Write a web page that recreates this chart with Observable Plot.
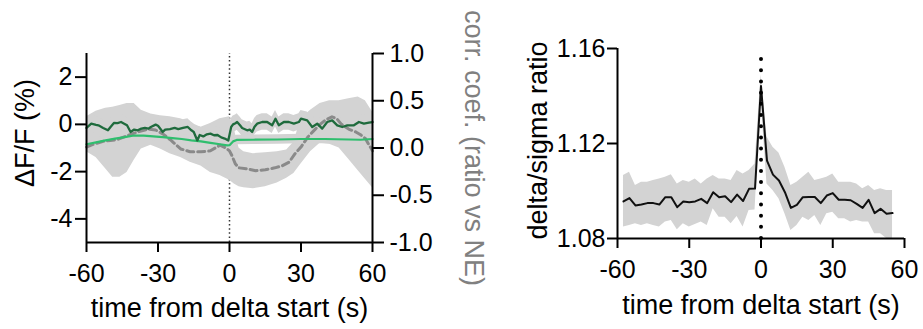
<!DOCTYPE html>
<html><head><meta charset="utf-8">
<script src="https://cdn.jsdelivr.net/npm/d3@7"></script>
<script src="https://cdn.jsdelivr.net/npm/@observablehq/plot@0.6"></script>
<style>
body{margin:0;background:#fff;}
#wrap{position:relative;width:923px;height:329px;overflow:hidden;background:#fff;}
#wrap svg{position:absolute;top:0;}
</style></head><body><div id="wrap"></div>
<script>
// ---------- axis definitions ----------
const xTicks = [-60, -30, 0, 30, 60];
const xDomain = [-60, 60];
const dffTicks = [-4, -2, 0, 2];
const dffDomain = [-5, 3];
const corrTicks = [-1, -0.5, 0, 0.5, 1];
const corrDomain = [-1, 1];
const ratioTicks = [1.08, 1.12, 1.16];
const ratioDomain = [1.08, 1.16];

// ---------- left panel: dark green dF/F trace ----------
const dgT = [-60,-58,-56,-55,-53,-51,-50,-48.5,-47,-45.5,-44,-43,-41.5,-40,-38.5,-37,-35.5,-34,-33,-31,-30,-28,-27,-25,-23,-21.5,-19.5,-17.5,-16,-15,-13.5,-12.5,-11,-9.5,-8,-6.5,-5,-3.5,-2,-0.5,0.7,1.5,2.5,3.2,4.5,5.3,7.4,8.5,9.5,10.5,11.6,13.7,15.8,17.9,19.3,20.7,22.8,24.9,27,29.1,30,32.6,34.7,36.8,38.9,41,43.1,45.2,47.3,49.4,52.2,54.3,56.4,58.5,60];
const dgV = [-0.15,0.03,-0.02,-0.04,-0.15,-0.25,-0.12,0.06,0.05,0.10,0.02,-0.04,-0.32,-0.22,-0.25,-0.18,-0.15,-0.18,-0.11,-0.01,-0.06,-0.32,-0.22,-0.20,-0.15,-0.20,-0.15,-0.11,-0.25,-0.32,-0.68,-0.45,-0.51,-0.42,-0.39,-0.46,-0.45,-0.55,-0.60,-0.68,-0.11,0.00,0.05,0.10,-0.05,-0.15,-0.25,-0.22,-0.32,-0.10,0.03,0.10,0.10,-0.04,0.24,-0.04,0.10,0.10,0.03,0.10,0.24,0.17,-0.11,0.03,-0.18,0.10,0.17,-0.04,-0.11,-0.04,-0.04,0.10,0.03,0.07,0.10];
const dgHalfBand = 0.35;   // half width of the grey band around the dark trace

// ---------- left panel: light green dF/F trace ----------
const lgT = [-60,-56,-52,-48,-44,-40,-36,-32,-28,-24,-20,-16,-12,-8,-4,-1,0,1.5,3,10,20,30,40,50,55,60];
const lgV = [-0.84,-0.76,-0.68,-0.60,-0.54,-0.47,-0.48,-0.51,-0.54,-0.58,-0.62,-0.68,-0.72,-0.78,-0.84,-0.89,-0.88,-0.72,-0.66,-0.65,-0.64,-0.62,-0.62,-0.64,-0.65,-0.62];
const lgHalfBand = 0.2;

// ---------- left panel: correlation coefficient (right axis) ----------
const ccT = [-60,-57,-53,-50,-47,-43,-38.5,-34,-31,-28,-24.5,-20.5,-16.5,-12,-8,-4,-1.5,0,1,2.5,4,7,11,15,19,22,25,27.5,30,33,36,38,40.5,43,45,47,50,53,55,57,60];
const ccV = [0.01,0.04,0.07,0.08,0.09,0.13,0.17,0.20,0.19,0.15,0.08,-0.01,-0.04,-0.04,-0.03,0.03,0.00,-0.03,-0.08,-0.17,-0.21,-0.22,-0.24,-0.23,-0.21,-0.19,-0.15,-0.06,0.01,0.12,0.20,0.25,0.30,0.33,0.31,0.25,0.20,0.17,0.14,0.10,-0.03];
const cbT  = [-60,-56,-52,-49,-46,-43,-40,-37,-33,-29,-25,-20.5,-16.5,-12,-8,-4,0,2,4,6,10,15,20,24,27,30,34,38,42,46,50,54,57,60];
const cbHi = [0.33,0.39,0.42,0.43,0.45,0.47,0.47,0.40,0.36,0.34,0.33,0.31,0.27,0.22,0.26,0.31,0.33,0.20,0.00,-0.04,-0.06,-0.05,-0.04,-0.02,0.06,0.31,0.40,0.47,0.50,0.50,0.52,0.54,0.50,0.38];
const cbLo = [-0.04,-0.10,-0.22,-0.31,-0.31,-0.26,-0.13,-0.01,0.03,-0.01,-0.06,-0.10,-0.15,-0.19,-0.26,-0.29,-0.34,-0.38,-0.41,-0.42,-0.43,-0.41,-0.37,-0.32,-0.27,-0.17,-0.04,0.05,0.04,0.00,-0.12,-0.24,-0.33,-0.42];

// ---------- right panel: delta/sigma ratio ----------
const rT = [-57.5,-55,-52.5,-50,-47.5,-45,-42.5,-40,-37.5,-35,-32.5,-30,-27.5,-25,-22.5,-20,-17.5,-15,-12.5,-10,-7.5,-5,-2.5,0,2.5,5,7.5,10,12.5,15,17.5,20,22.5,25,27.5,30,32.5,35,37.5,40,42.5,45,47.5,50,52.5,55];
const rV = [1.0956,1.0970,1.0939,1.0943,1.0949,1.0949,1.0943,1.0974,1.0974,1.0932,1.0956,1.0953,1.0956,1.0967,1.0949,1.0995,1.0974,1.0978,1.0953,1.0985,1.0958,1.1009,1.1010,1.1442,1.1128,1.1069,1.1044,1.0995,1.0929,1.0942,1.0974,1.0975,1.0975,1.0949,1.0981,1.0991,1.0963,1.0963,1.0961,1.0946,1.0929,1.0963,1.0907,1.0925,1.0904,1.0907];
const rHi = [1.1065,1.1079,1.1023,1.1037,1.1037,1.1044,1.1051,1.1058,1.1068,1.1030,1.1044,1.1037,1.1051,1.1030,1.1051,1.1065,1.1051,1.1051,1.1044,1.1086,1.1072,1.1086,1.1114,1.1490,1.1227,1.1184,1.1160,1.1100,1.1023,1.1037,1.1058,1.1079,1.1044,1.1051,1.1058,1.1072,1.1037,1.1037,1.1037,1.1030,1.1009,1.1023,1.1002,1.1009,1.1002,1.1002];
const rLo = [1.0848,1.0855,1.0862,1.0855,1.0862,1.0855,1.0848,1.0869,1.0876,1.0837,1.0862,1.0848,1.0859,1.0869,1.0855,1.0925,1.0890,1.0890,1.0862,1.0893,1.0848,1.0918,1.0920,1.1390,1.1030,1.1002,1.0967,1.0904,1.0834,1.0855,1.0890,1.0876,1.0897,1.0855,1.0904,1.0911,1.0883,1.0883,1.0869,1.0876,1.0869,1.0869,1.0820,1.0820,1.0800,1.0800];

// ---------- text ----------
const xTitle = "time from delta start (s)";
const dffTitle = "ΔF/F (%)";
const corrTitle = "corr. coef. (ratio vs NE)";
const ratioTitle = "delta/sigma ratio";

// ---------- styles ----------
const GREY_BAND = "#d3d3d3";
const DARK_GREEN = "#1f6b3d";
const LIGHT_GREEN = "#2fbe6e";
const DASH_GREY = "#8a8a8a";
const FONT = "'Liberation Sans', Arial, Helvetica, sans-serif";

// map a correlation value onto the dF/F scale (the right axis shares the frame)
const corrToDff = c => dffDomain[0] + (c - corrDomain[0]) / (corrDomain[1] - corrDomain[0]) * (dffDomain[1] - dffDomain[0]);
const dffToCorr = v => corrDomain[0] + (v - dffDomain[0]) / (dffDomain[1] - dffDomain[0]) * (corrDomain[1] - corrDomain[0]);

const fmt = d => String(d);

const dg = dgT.map((t, i) => ({t, v: dgV[i]}));
const lg = lgT.map((t, i) => ({t, v: lgV[i]}));
const cc = ccT.map((t, i) => ({t, v: ccV[i]}));
const cb = cbT.map((t, i) => ({t, hi: cbHi[i], lo: cbLo[i]}));
const rr = rT.map((t, i) => ({t, v: rV[i], hi: rHi[i], lo: rLo[i]}));

const wrap = document.getElementById("wrap");

// ---------- left panel ----------
const left = Plot.plot({
  width: 490, height: 329,
  marginLeft: 86, marginRight: 118, marginTop: 53, marginBottom: 87,
  style: {fontFamily: FONT, fontSize: "25px", color: "#000", background: "transparent", overflow: "visible"},
  x: {domain: xDomain},
  y: {domain: dffDomain},
  marks: [
    Plot.ruleX([0], {y1: dffDomain[0], y2: dffDomain[1], stroke: "#333", strokeWidth: 1.5, strokeDasharray: "1.5,2.6"}),
    Plot.areaY(cb, {x: "t", y1: d => corrToDff(d.lo), y2: d => corrToDff(d.hi), fill: GREY_BAND}),
    Plot.areaY(dg, {x: "t", y1: d => d.v - dgHalfBand, y2: d => d.v + dgHalfBand, fill: GREY_BAND}),
    Plot.areaY(lg, {x: "t", y1: d => d.v - lgHalfBand, y2: d => d.v + lgHalfBand, fill: GREY_BAND}),
    Plot.line(cc, {x: "t", y: d => corrToDff(d.v), stroke: DASH_GREY, strokeWidth: 3, strokeDasharray: "7,4"}),
    Plot.line(lg, {x: "t", y: "v", stroke: LIGHT_GREEN, strokeWidth: 2.2}),
    Plot.line(dg, {x: "t", y: "v", stroke: DARK_GREEN, strokeWidth: 2.3}),
    Plot.ruleX([xDomain[0]], {y1: dffDomain[0], y2: dffDomain[1], strokeWidth: 2}),
    Plot.ruleX([xDomain[1]], {y1: dffDomain[0], y2: dffDomain[1], strokeWidth: 2}),
    Plot.ruleY([dffDomain[0]], {x1: xDomain[0], x2: xDomain[1], strokeWidth: 2}),
    Plot.axisX({ticks: xTicks, tickFormat: fmt, tickSize: 10, tickPadding: 12, strokeWidth: 2, label: null}),
    Plot.axisY({anchor: "left", ticks: dffTicks, tickFormat: fmt, tickSize: 11, tickPadding: 3, strokeWidth: 2, label: null}),
    Plot.axisY({anchor: "right", ticks: corrTicks.map(corrToDff), tickFormat: v => dffToCorr(v).toFixed(1), tickSize: 11, tickPadding: 6, strokeWidth: 2, label: null}),
    Plot.text([xTitle], {text: d => d, frameAnchor: "bottom", dy: 66, fontSize: 27, textAnchor: "middle", lineAnchor: "middle"}),
    Plot.text([dffTitle], {text: d => d, frameAnchor: "left", dx: -61, dy: -15, rotate: -90, fontSize: 27, textAnchor: "middle", lineAnchor: "middle"}),
    Plot.text([corrTitle], {text: d => d, frameAnchor: "right", dx: 101, rotate: 90, fontSize: 27, fill: "#808080", textAnchor: "middle", lineAnchor: "middle"})
  ]
});
left.style.left = "0px";
wrap.appendChild(left);

// ---------- right panel ----------
const right = Plot.plot({
  width: 463, height: 329,
  marginLeft: 157, marginRight: 19, marginTop: 48, marginBottom: 91,
  style: {fontFamily: FONT, fontSize: "25px", color: "#000", background: "transparent", overflow: "visible"},
  x: {domain: xDomain},
  y: {domain: ratioDomain},
  marks: [
    Plot.areaY(rr, {x: "t", y1: "lo", y2: "hi", fill: GREY_BAND}),
    Plot.line(rr, {x: "t", y: "v", stroke: "#111", strokeWidth: 2}),
    Plot.ruleX([0], {y1: ratioDomain[0], y2: ratioDomain[1], stroke: "#000", strokeWidth: 4, strokeLinecap: "round", strokeDasharray: "0,11.18"}),
    Plot.ruleX([xDomain[0]], {y1: ratioDomain[0], y2: ratioDomain[1], strokeWidth: 2}),
    Plot.ruleY([ratioDomain[0]], {x1: xDomain[0], x2: xDomain[1], strokeWidth: 2}),
    Plot.axisX({ticks: xTicks, tickFormat: fmt, tickSize: 10, tickPadding: 12, strokeWidth: 2, label: null}),
    Plot.axisY({anchor: "left", ticks: ratioTicks, tickFormat: d => d.toFixed(2), tickSize: 10, tickPadding: 2, strokeWidth: 2, label: null}),
    Plot.text([xTitle], {text: d => d, frameAnchor: "bottom", dy: 67, fontSize: 27, textAnchor: "middle", lineAnchor: "middle"}),
    Plot.text([ratioTitle], {text: d => d, frameAnchor: "left", dx: -79, dy: -3, rotate: -90, fontSize: 27, textAnchor: "middle", lineAnchor: "middle"})
  ]
});
right.style.left = "460px";
wrap.appendChild(right);
</script>
</body></html>
